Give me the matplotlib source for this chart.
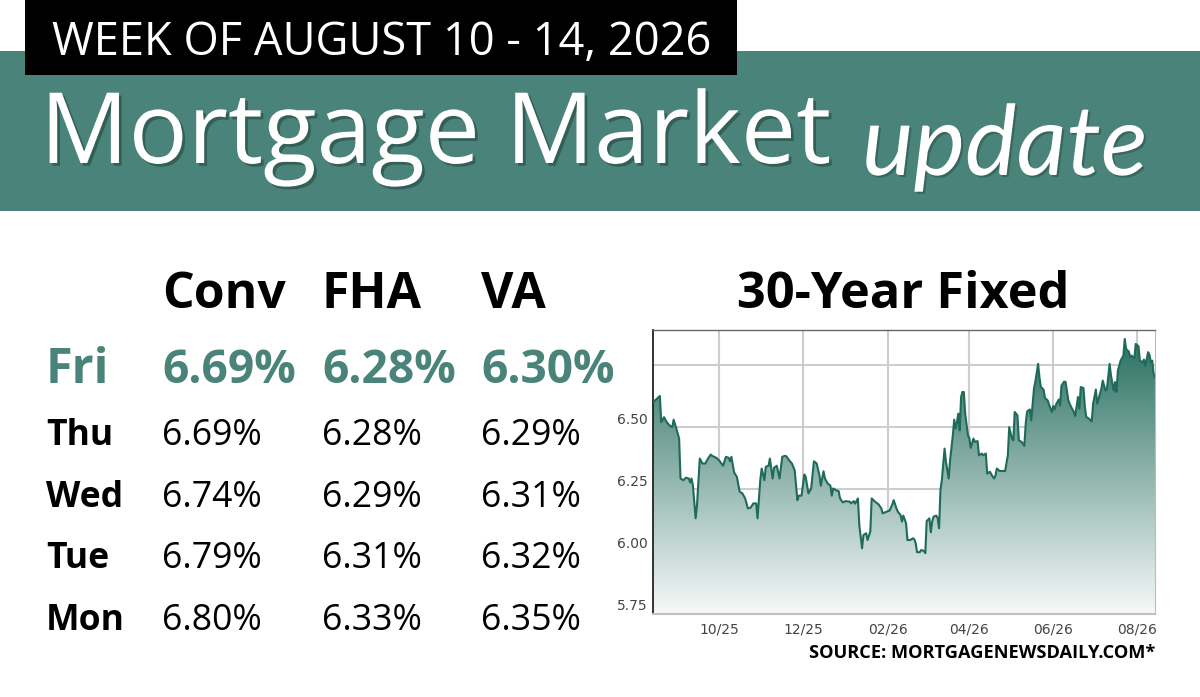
import matplotlib
matplotlib.use("Agg")
import matplotlib.pyplot as plt
import matplotlib.patheffects as pe
import matplotlib.dates as mdates
from matplotlib.patches import Rectangle
from matplotlib.transforms import ScaledTranslation
from matplotlib.colors import LinearSegmentedColormap
import numpy as np
import pandas as pd

# ---------------- data ----------------
week_label = "WEEK OF AUGUST 10 - 14, 2026"
loan_types = ["Conv", "FHA", "VA"]
days = ["Fri", "Thu", "Wed", "Tue", "Mon"]
conv_rates = ["6.69%", "6.69%", "6.74%", "6.79%", "6.80%"]
fha_rates = ["6.28%", "6.28%", "6.29%", "6.31%", "6.33%"]
va_rates = ["6.30%", "6.29%", "6.31%", "6.32%", "6.35%"]

chart_title = "30-Year Fixed"
source_note = "SOURCE: MORTGAGENEWSDAILY.COM*"

rate_dates = [
    "2025-08-14", "2025-08-19", "2025-08-20", "2025-08-22", "2025-08-24", "2025-08-26",
    "2025-08-28", "2025-08-29", "2025-08-31", "2025-09-02", "2025-09-03", "2025-09-05",
    "2025-09-07", "2025-09-09", "2025-09-10", "2025-09-11", "2025-09-12", "2025-09-14",
    "2025-09-15", "2025-09-17", "2025-09-19", "2025-09-21", "2025-09-23", "2025-09-25",
    "2025-09-26", "2025-09-29", "2025-10-01", "2025-10-04", "2025-10-06", "2025-10-08",
    "2025-10-09", "2025-10-10", "2025-10-12", "2025-10-14", "2025-10-16", "2025-10-18",
    "2025-10-20", "2025-10-22", "2025-10-24", "2025-10-26", "2025-10-28", "2025-10-29",
    "2025-10-31", "2025-11-01", "2025-11-03", "2025-11-04", "2025-11-06", "2025-11-07",
    "2025-11-09", "2025-11-10", "2025-11-12", "2025-11-14", "2025-11-16", "2025-11-18",
    "2025-11-19", "2025-11-21", "2025-11-23", "2025-11-25", "2025-11-27", "2025-11-28",
    "2025-11-30", "2025-12-02", "2025-12-03", "2025-12-05", "2025-12-07", "2025-12-09",
    "2025-12-11", "2025-12-13", "2025-12-14", "2025-12-16", "2025-12-17", "2025-12-19",
    "2025-12-21", "2025-12-22", "2025-12-23", "2025-12-25", "2025-12-27", "2025-12-28",
    "2025-12-30", "2026-01-01", "2026-01-04", "2026-01-05", "2026-01-07", "2026-01-08",
    "2026-01-10", "2026-01-11", "2026-01-13", "2026-01-14", "2026-01-16", "2026-01-17",
    "2026-01-19", "2026-01-20", "2026-01-22", "2026-01-25", "2026-01-27", "2026-01-28",
    "2026-01-31", "2026-02-02", "2026-02-04", "2026-02-05", "2026-02-07", "2026-02-08",
    "2026-02-10", "2026-02-11", "2026-02-12", "2026-02-14", "2026-02-15", "2026-02-17",
    "2026-02-19", "2026-02-20", "2026-02-21", "2026-02-22", "2026-02-24", "2026-02-25",
    "2026-02-27", "2026-02-28", "2026-03-01", "2026-03-03", "2026-03-04", "2026-03-05",
    "2026-03-06", "2026-03-08", "2026-03-09", "2026-03-10", "2026-03-11", "2026-03-12",
    "2026-03-14", "2026-03-15", "2026-03-17", "2026-03-18", "2026-03-20", "2026-03-21",
    "2026-03-22", "2026-03-23", "2026-03-24", "2026-03-25", "2026-03-26", "2026-03-27",
    "2026-03-28", "2026-03-29", "2026-03-31", "2026-04-01", "2026-04-02", "2026-04-04",
    "2026-04-05", "2026-04-07", "2026-04-08", "2026-04-10", "2026-04-11", "2026-04-13",
    "2026-04-14", "2026-04-16", "2026-04-17", "2026-04-19", "2026-04-20", "2026-04-21",
    "2026-04-23", "2026-04-25", "2026-04-27", "2026-04-29", "2026-04-30", "2026-05-02",
    "2026-05-03", "2026-05-04", "2026-05-06", "2026-05-07", "2026-05-09", "2026-05-11",
    "2026-05-12", "2026-05-13", "2026-05-15", "2026-05-16", "2026-05-18", "2026-05-19",
    "2026-05-21", "2026-05-22", "2026-05-23", "2026-05-25", "2026-05-26", "2026-05-28",
    "2026-05-29", "2026-05-31", "2026-06-01", "2026-06-02", "2026-06-03", "2026-06-05",
    "2026-06-06", "2026-06-07", "2026-06-09", "2026-06-10", "2026-06-12", "2026-06-14",
    "2026-06-16", "2026-06-17", "2026-06-19", "2026-06-20", "2026-06-21", "2026-06-23",
    "2026-06-24", "2026-06-25", "2026-06-27", "2026-06-29", "2026-06-30", "2026-07-02",
    "2026-07-03", "2026-07-05", "2026-07-06", "2026-07-07", "2026-07-09", "2026-07-10",
    "2026-07-12", "2026-07-13", "2026-07-15", "2026-07-16", "2026-07-17", "2026-07-18",
    "2026-07-20", "2026-07-22", "2026-07-23", "2026-07-24", "2026-07-26", "2026-07-27",
    "2026-07-28", "2026-07-30", "2026-07-31", "2026-08-02", "2026-08-03", "2026-08-05",
    "2026-08-06", "2026-08-07", "2026-08-09", "2026-08-10", "2026-08-11", "2026-08-12",
    "2026-08-13", "2026-08-14",
]
rate_values = [
    6.600, 6.625, 6.520, 6.540, 6.520, 6.507,
    6.500, 6.530, 6.494, 6.454, 6.294, 6.287,
    6.297, 6.294, 6.278, 6.294, 6.267, 6.134,
    6.187, 6.374, 6.354, 6.354, 6.374, 6.390,
    6.385, 6.377, 6.367, 6.345, 6.381, 6.377,
    6.363, 6.381, 6.318, 6.300, 6.241, 6.234,
    6.214, 6.174, 6.177, 6.194, 6.194, 6.134,
    6.287, 6.334, 6.287, 6.341, 6.345, 6.374,
    6.294, 6.337, 6.345, 6.294, 6.381, 6.385,
    6.383, 6.367, 6.354, 6.327, 6.207, 6.225,
    6.225, 6.310, 6.301, 6.234, 6.254, 6.363,
    6.354, 6.307, 6.265, 6.323, 6.294, 6.274,
    6.265, 6.225, 6.254, 6.247, 6.243, 6.214,
    6.198, 6.203, 6.201, 6.194, 6.203, 6.193,
    6.214, 6.107, 6.014, 6.067, 6.074, 6.047,
    6.081, 6.214, 6.203, 6.190, 6.174, 6.154,
    6.161, 6.165, 6.190, 6.207, 6.174, 6.161,
    6.147, 6.121, 6.145, 6.114, 6.047, 6.047,
    6.054, 6.050, 6.034, 5.998, 5.998, 6.007,
    6.003, 5.994, 6.123, 6.134, 6.078, 6.121,
    6.141, 6.145, 6.134, 6.094, 6.247, 6.287,
    6.414, 6.361, 6.294, 6.367, 6.467, 6.530,
    6.494, 6.521, 6.554, 6.487, 6.621, 6.641,
    6.641, 6.554, 6.467, 6.457, 6.417, 6.454,
    6.441, 6.444, 6.387, 6.394, 6.387, 6.394,
    6.314, 6.321, 6.310, 6.294, 6.305, 6.334,
    6.324, 6.324, 6.324, 6.387, 6.500, 6.454,
    6.447, 6.561, 6.547, 6.447, 6.441, 6.425,
    6.514, 6.563, 6.571, 6.527, 6.654, 6.683,
    6.754, 6.700, 6.661, 6.651, 6.617, 6.607,
    6.590, 6.561, 6.585, 6.571, 6.590, 6.611,
    6.587, 6.667, 6.683, 6.681, 6.607, 6.581,
    6.561, 6.545, 6.621, 6.574, 6.661, 6.657,
    6.581, 6.541, 6.534, 6.523, 6.594, 6.651,
    6.594, 6.634, 6.654, 6.687, 6.647, 6.651,
    6.754, 6.707, 6.647, 6.681, 6.641, 6.727,
    6.767, 6.787, 6.854, 6.814, 6.803, 6.781,
    6.787, 6.777, 6.834, 6.825, 6.767, 6.761,
    6.771, 6.747, 6.801, 6.790, 6.761, 6.767,
    6.714, 6.700,
]
x_tick_dates = ["2025-10-01", "2025-12-01", "2026-02-01", "2026-04-01", "2026-06-01", "2026-08-01"]
x_tick_labels = ["10/25", "12/25", "02/26", "04/26", "06/26", "08/26"]
y_tick_values = [5.75, 6.00, 6.25, 6.50, 6.75]
y_tick_labels = ["5.75", "6.00", "6.25", "6.50", ""]

# ---------------- style ----------------
TEAL = "#4a8379"
LINE = "#1f6a5b"
FONT = "Open Sans"
W, H = 1200, 697

fig = plt.figure(figsize=(12, 6.97), dpi=100)
fig.patch.set_facecolor("white")


def P(x, y):
    return (x / W, 1 - y / H)


renderer = fig.canvas.get_renderer()


def fit_size(s, width, size=20, family=FONT, **kw):
    t = fig.text(0, 0, s, fontsize=size, family=family, **kw)
    bb = t.get_window_extent(renderer)
    t.remove()
    return size * width / bb.width


def put(s, x, y, size=20, ha="left", family=FONT, **kw):
    return fig.text(*P(x, y), s, ha=ha, va="baseline", fontsize=size, family=family, **kw)


# header band
fig.patches.append(Rectangle(P(0, 211), 1, 160 / H, transform=fig.transFigure,
                             facecolor=TEAL, edgecolor="none", zorder=0))
fig.patches.append(Rectangle(P(25, 75), 712 / W, 75 / H, transform=fig.transFigure,
                             facecolor="black", edgecolor="none", zorder=1))

put(week_label, 52, 55, size=fit_size(week_label, 660), color="white", zorder=3)

shadow = [pe.SimplePatchShadow(offset=(2, -2), shadow_rgbFace="#16352f", alpha=0.45), pe.Normal()]
put("Mortgage Market", 40, 163, size=fit_size("Mortgage Market", 790), color="white",
    zorder=3, path_effects=shadow)
shadow2 = [pe.SimplePatchShadow(offset=(1.5, -1.5), shadow_rgbFace="#16352f", alpha=0.35), pe.Normal()]
put("update", 862, 175, size=fit_size("update", 285, family="Lato", style="italic"),
    family="Lato", style="italic", color="white", zorder=3, path_effects=shadow2)

# table
col_x = [162, 322, 481]
hdr_size = fit_size("Conv", 124, weight="bold")
for lt, x in zip(loan_types, col_x):
    put(lt, x, 308, size=hdr_size, weight="bold", color="black")
put(chart_title, 737, 308, size=fit_size(chart_title, 333, weight="bold"),
    weight="bold", color="black")

row_y = [383, 445, 507, 568, 630]
fri_size = fit_size("6.69%", 134, weight="bold")
day_size = fit_size("Thu", 67, weight="bold")
val_size = fit_size("6.69%", 100)
for i, (d, c, f, v) in enumerate(zip(days, conv_rates, fha_rates, va_rates)):
    y = row_y[i]
    if i == 0:
        put(d, 46, y, size=fri_size * 1.05, weight="bold", color=TEAL)
        for s, x in zip((c, f, v), col_x):
            put(s, x, y, size=fri_size, weight="bold", color=TEAL)
    else:
        put(d, 46, y, size=day_size, weight="bold", color="black")
        for s, x in zip((c, f, v), col_x):
            put(s, x, y, size=val_size, color="black")

put(source_note, 1155, 658, size=fit_size(source_note, 347, weight="bold"),
    weight="bold", color="black", ha="right")

# ---------------- chart ----------------
dates = pd.to_datetime(rate_dates)
vals = np.array(rate_values)

ax = fig.add_axes([653 / W, 1 - 614 / H, 502 / W, 284 / H])
ax.set_facecolor("white")
x0, x1 = pd.Timestamp("2025-08-14"), pd.Timestamp("2026-08-14")

poly = ax.fill_between(dates, vals, 5.75, facecolor="none", edgecolor="none")
cmap = LinearSegmentedColormap.from_list("g", ["#f7faf9", "#2b7063"])
grad = np.linspace(0, 1, 256).reshape(-1, 1)
im = ax.imshow(grad, cmap=cmap, origin="lower", aspect="auto",
               extent=[mdates.date2num(x0), mdates.date2num(x1), 5.75, vals.max()],
               zorder=1, interpolation="bicubic")
im.set_clip_path(poly.get_paths()[0], transform=ax.transData)
ax.set_xlim(x0, x1)
ax.set_ylim(5.75, 6.89)
ax.plot(dates, vals, color=LINE, lw=1.5, zorder=3)

ax.set_axisbelow(True)
ax.grid(True, color="#cdcdcd", lw=1.5)
ax.set_xticks(pd.to_datetime(x_tick_dates))
ax.set_xticklabels(x_tick_labels)
ax.set_yticks(y_tick_values)
ax.set_yticklabels(y_tick_labels)
ax.tick_params(length=0, labelsize=10, labelcolor="#444444")
ax.tick_params(axis="x", pad=6)
ax.tick_params(axis="y", pad=4)
for lab in ax.get_yticklabels():
    lab.set_transform(lab.get_transform() + ScaledTranslation(0, 0.09, fig.dpi_scale_trans))
    lab.set_family("DejaVu Sans")
for lab in ax.get_xticklabels():
    lab.set_family("DejaVu Sans")

ax.spines["left"].set_color("#222222")
ax.spines["left"].set_linewidth(1.3)
ax.spines["top"].set_color("#666666")
ax.spines["top"].set_linewidth(1.0)
ax.spines["right"].set_color("#bbbbbb")
ax.spines["bottom"].set_color("#c0c0c0")
ax.spines["bottom"].set_linewidth(1.5)

fig.savefig("out.png", dpi=100, facecolor="white")
